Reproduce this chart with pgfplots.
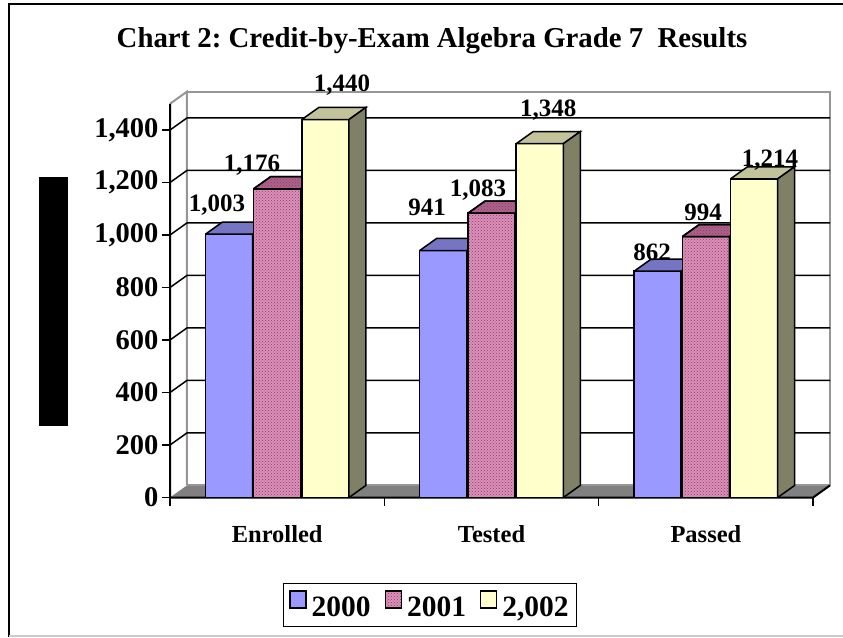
\documentclass[border=0pt]{standalone}
\usepackage{fontspec}
\setmainfont{Liberation Serif}
\usepackage{pgfplots}
\pgfplotsset{compat=1.18}
\usetikzlibrary{patterns}
\definecolor{bluefront}{RGB}{153,153,255}
\definecolor{bluetop}{RGB}{117,117,196}
\definecolor{blueside}{RGB}{95,95,165}
\definecolor{pinkbase}{RGB}{218,145,186}
\definecolor{pinkdot}{RGB}{153,51,102}
\definecolor{pinktopbase}{RGB}{170,100,140}
\definecolor{yelfront}{RGB}{255,255,204}
\definecolor{yeltop}{RGB}{194,194,155}
\definecolor{yelside}{RGB}{128,128,102}
\definecolor{floorgray}{RGB}{128,128,128}
\definecolor{wallgray}{RGB}{150,150,150}
\pgfplotsset{
  sqleg/.style={legend image code/.code={\draw[##1,line width=1.3pt] (0pt,-1pt) rectangle (16pt,16pt);}},
  bluest/.style={fill=bluefront, draw=black, line width=1.5pt},
  pinkst/.style={fill=pinkbase, postaction={pattern=crosshatch dots, pattern color=pinkdot}, draw=black, line width=1.5pt},
  yelst/.style={fill=yelfront, draw=black, line width=1.5pt},
  face/.style={forget plot, draw=black, line width=1.5pt},
}
\frenchspacing
\begin{document}
\frenchspacing
\begin{tikzpicture}
\path[use as bounding box] (0pt,0pt) rectangle (843pt,-637pt);
\draw[line width=2pt] (9pt,-637pt) -- (9pt,-4pt) -- (843pt,-4pt);
\draw[black!20, line width=1.5pt] (9pt,-636pt) -- (843pt,-636pt);
\begin{axis}[
  at={(170pt,-497.5pt)}, anchor=south west,
  scale only axis, width=660pt, height=405.8pt,
  xmin=0, xmax=3.079, ymin=0, ymax=1546,
  clip=false,
  axis line style={draw=none},
  tick align=outside, tick pos=left,
  major tick length=8pt, minor tick length=8pt,
  tick style={black, line width=1.5pt},
  major x tick style={draw=none},
  xtick={0.5,1.5,2.5}, xticklabels={Enrolled,Tested,Passed},
  minor xtick={0,1,2,3},
  ytick={0,200,400,600,800,1000,1200,1400},
  /pgf/number format/assume math mode=true,
  /pgf/number format/1000 sep={,},
  yticklabel style={font=\fontsize{28.5}{32}\selectfont\bfseries},
  xticklabel style={font=\fontsize{24.5}{28}\selectfont\bfseries, yshift=-16pt},
  title={\frenchspacing Chart 2: Credit-by-Exam Algebra Grade 7\ \ Results},
  title style={at={(axis description cs:0.397,1.093)}, anchor=base, font=\fontsize{28.8}{32}\selectfont\bfseries},
  ylabel={\rule{0pt}{0pt}},
  ylabel style={at={(axis description cs:-0.177,0.484)}, anchor=center, fill=black, minimum width=249pt, minimum height=29pt, inner sep=0pt},
  legend entries={2000,2001,{2,002}},
  legend style={at={(axis description cs:0.394,-0.265)}, anchor=center, legend columns=-1, draw=black, line width=1.5pt,
    font=\fontsize{29.5}{32}\selectfont\bfseries, inner xsep=6pt, inner ysep=7pt,
    /tikz/every odd column/.append style={column sep=3pt},
    /tikz/every even column/.append style={column sep=12pt}},
]
% floor
\addplot[forget plot, fill=floorgray, draw=none] coordinates {(0,0) (0.079,46) (3.079,46) (3,0) (0,0)};
% back wall
\addplot[forget plot, fill=white, draw=wallgray, line width=2pt] coordinates {(0.079,46) (3.079,46) (3.079,1546) (0.079,1546) (0.079,46)};
% left wall
\addplot[forget plot, fill=white, draw=wallgray, line width=2pt] coordinates {(0,1500) (0.079,1546) (0.079,46)};
% grid lines
\addplot[forget plot, black, line width=1.5pt] coordinates {(0,200) (0.079,246) (3.079,246)};
\addplot[forget plot, black, line width=1.5pt] coordinates {(0,400) (0.079,446) (3.079,446)};
\addplot[forget plot, black, line width=1.5pt] coordinates {(0,600) (0.079,646) (3.079,646)};
\addplot[forget plot, black, line width=1.5pt] coordinates {(0,800) (0.079,846) (3.079,846)};
\addplot[forget plot, black, line width=1.5pt] coordinates {(0,1000) (0.079,1046) (3.079,1046)};
\addplot[forget plot, black, line width=1.5pt] coordinates {(0,1200) (0.079,1246) (3.079,1246)};
\addplot[forget plot, black, line width=1.5pt] coordinates {(0,1400) (0.079,1446) (3.079,1446)};
% front axes
\addplot[forget plot, black, line width=2pt] coordinates {(0,1500) (0,0) (3,0) (3.079,46)};
% ---- 2000 ----
\addplot[ybar, bar width=0.22, bar shift=-0.225, bluest, sqleg] coordinates {(0.5,1003) (1.5,941) (2.5,862)};
\addplot[face, fill=bluetop] coordinates {(0.165,1003) (0.244,1049) (0.464,1049) (0.385,1003) (0.165,1003)};
\addplot[face, fill=blueside] coordinates {(0.385,0) (0.385,1003) (0.464,1049) (0.464,46) (0.385,0)};
\addplot[face, fill=bluetop] coordinates {(1.165,941) (1.244,987) (1.464,987) (1.385,941) (1.165,941)};
\addplot[face, fill=blueside] coordinates {(1.385,0) (1.385,941) (1.464,987) (1.464,46) (1.385,0)};
\addplot[face, fill=bluetop] coordinates {(2.165,862) (2.244,908) (2.464,908) (2.385,862) (2.165,862)};
\addplot[face, fill=blueside] coordinates {(2.385,0) (2.385,862) (2.464,908) (2.464,46) (2.385,0)};
% ---- 2001 ----
\addplot[ybar, bar width=0.22, bar shift=0, pinkst, sqleg] coordinates {(0.5,1176) (1.5,1083) (2.5,994)};
\addplot[face, fill=pinktopbase, postaction={pattern=crosshatch dots, pattern color=pinkdot}] coordinates {(0.39,1176) (0.469,1222) (0.689,1222) (0.61,1176) (0.39,1176)};
\addplot[face, fill=pinktopbase] coordinates {(0.61,0) (0.61,1176) (0.689,1222) (0.689,46) (0.61,0)};
\addplot[face, fill=pinktopbase, postaction={pattern=crosshatch dots, pattern color=pinkdot}] coordinates {(1.39,1083) (1.469,1129) (1.689,1129) (1.61,1083) (1.39,1083)};
\addplot[face, fill=pinktopbase] coordinates {(1.61,0) (1.61,1083) (1.689,1129) (1.689,46) (1.61,0)};
\addplot[face, fill=pinktopbase, postaction={pattern=crosshatch dots, pattern color=pinkdot}] coordinates {(2.39,994) (2.469,1040) (2.689,1040) (2.61,994) (2.39,994)};
\addplot[face, fill=pinktopbase] coordinates {(2.61,0) (2.61,994) (2.689,1040) (2.689,46) (2.61,0)};
% ---- 2002 ----
\addplot[ybar, bar width=0.22, bar shift=0.225, yelst, sqleg] coordinates {(0.5,1440) (1.5,1348) (2.5,1214)};
\addplot[face, fill=yeltop] coordinates {(0.615,1440) (0.694,1486) (0.914,1486) (0.835,1440) (0.615,1440)};
\addplot[face, fill=yelside] coordinates {(0.835,0) (0.835,1440) (0.914,1486) (0.914,46) (0.835,0)};
\addplot[face, fill=yeltop] coordinates {(1.615,1348) (1.694,1394) (1.914,1394) (1.835,1348) (1.615,1348)};
\addplot[face, fill=yelside] coordinates {(1.835,0) (1.835,1348) (1.914,1394) (1.914,46) (1.835,0)};
\addplot[face, fill=yeltop] coordinates {(2.615,1214) (2.694,1260) (2.914,1260) (2.835,1214) (2.615,1214)};
\addplot[face, fill=yelside] coordinates {(2.835,0) (2.835,1214) (2.914,1260) (2.914,46) (2.835,0)};
% value labels
\addplot[forget plot, draw=none, mark=none, nodes near coords, point meta=explicit symbolic,
  every node near coord/.append style={anchor=center, text=black, font=\fontsize{25}{28}\selectfont\bfseries}]
  coordinates {(0.219,1114) [1,003] (0.383,1267) [1,176] (0.802,1571) [1,440]
               (1.199,1107) [941] (1.437,1171) [1,083] (1.764,1476) [1,348]
               (2.249,935) [862] (2.487,1088) [994] (2.799,1286) [1,214]};
\end{axis}
\end{tikzpicture}
\end{document}
